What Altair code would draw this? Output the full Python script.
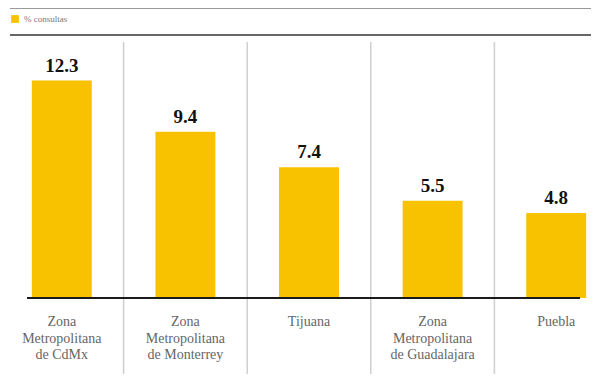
import altair as alt
import pandas as pd

categorias = [
    "Zona Metropolitana de CdMx",
    "Zona Metropolitana de Monterrey",
    "Tijuana",
    "Zona Metropolitana de Guadalajara",
    "Puebla",
]
etiquetas = [
    "Zona\nMetropolitana\nde CdMx",
    "Zona\nMetropolitana\nde Monterrey",
    "Tijuana",
    "Zona\nMetropolitana\nde Guadalajara",
    "Puebla",
]
valores = [12.3, 9.4, 7.4, 5.5, 4.8]
textos = ["12.3", "9.4", "7.4", "5.5", "4.8"]
serie = "% consultas"

df = pd.DataFrame({
    "cat": categorias,
    "etq": etiquetas,
    "val": valores,
    "txt": textos,
    "serie": [serie] * len(categorias),
})

W, H = 583, 290
XR = [-8, 610]
orden = categorias

xband = alt.X("cat:N", sort=orden, axis=None,
              scale=alt.Scale(range=XR, paddingInner=0.515, paddingOuter=0.2575))
yq = alt.Y("val:Q", axis=None, scale=alt.Scale(domain=[0, 16.4], nice=False))

base = alt.Chart(df)

bars = base.mark_bar(color="#f8c200").encode(
    x=xband,
    y=yq,
    color=alt.Color("serie:N", scale=alt.Scale(range=["#f8c200"]),
                    legend=alt.Legend(title=None, orient="none", legendX=2, legendY=6,
                                      symbolType="square", symbolSize=60,
                                      labelFont="Liberation Sans Narrow", labelFontSize=9,
                                      labelColor="#777777")),
)

vals = base.mark_text(font="Liberation Serif", fontWeight="bold", fontSize=19,
                      color="#111111", dy=-5, baseline="bottom").encode(
    x=xband, y=yq, text="txt:N")

labs = base.mark_text(font="Liberation Sans Narrow", fontSize=14, color="#666666",
                      lineBreak="\n", baseline="middle", lineHeight=16.5).encode(
    x=xband, y=alt.value(314), text="etq:N")

seps = alt.Chart(df[df["cat"] != categorias[0]]).mark_rule(
    color="#cfcfcf", strokeWidth=1.5).encode(
    x=alt.X("cat:N", sort=orden[1:], axis=None, bandPosition=0,
            scale=alt.Scale(domain=orden, range=XR, paddingInner=0, paddingOuter=0)),
    y=alt.value(34), y2=alt.value(370))

base_rule = base.mark_rule(color="#1a1a1a", strokeWidth=2).encode(
    x=alt.value(19), x2=alt.value(572), y=alt.datum(0, type="quantitative", scale=alt.Scale(domain=[0, 16.4], nice=False)))

top1 = base.mark_rule(color="#999999", strokeWidth=2).encode(
    x=alt.value(2), x2=alt.value(600), y=alt.value(0))
top2 = base.mark_rule(color="#666666", strokeWidth=2).encode(
    x=alt.value(2), x2=alt.value(600), y=alt.value(27))

chart = alt.layer(seps, top1, top2, bars, vals, labs, base_rule).resolve_scale(
    x="independent"
).properties(
    width=W, height=H,
    autosize=alt.AutoSizeParams(type="none"),
    padding={"left": 0, "top": 0, "right": 0, "bottom": 76},
).configure_view(stroke=None)

chart.save("out.html", embed_options={"renderer": "svg", "actions": False})
